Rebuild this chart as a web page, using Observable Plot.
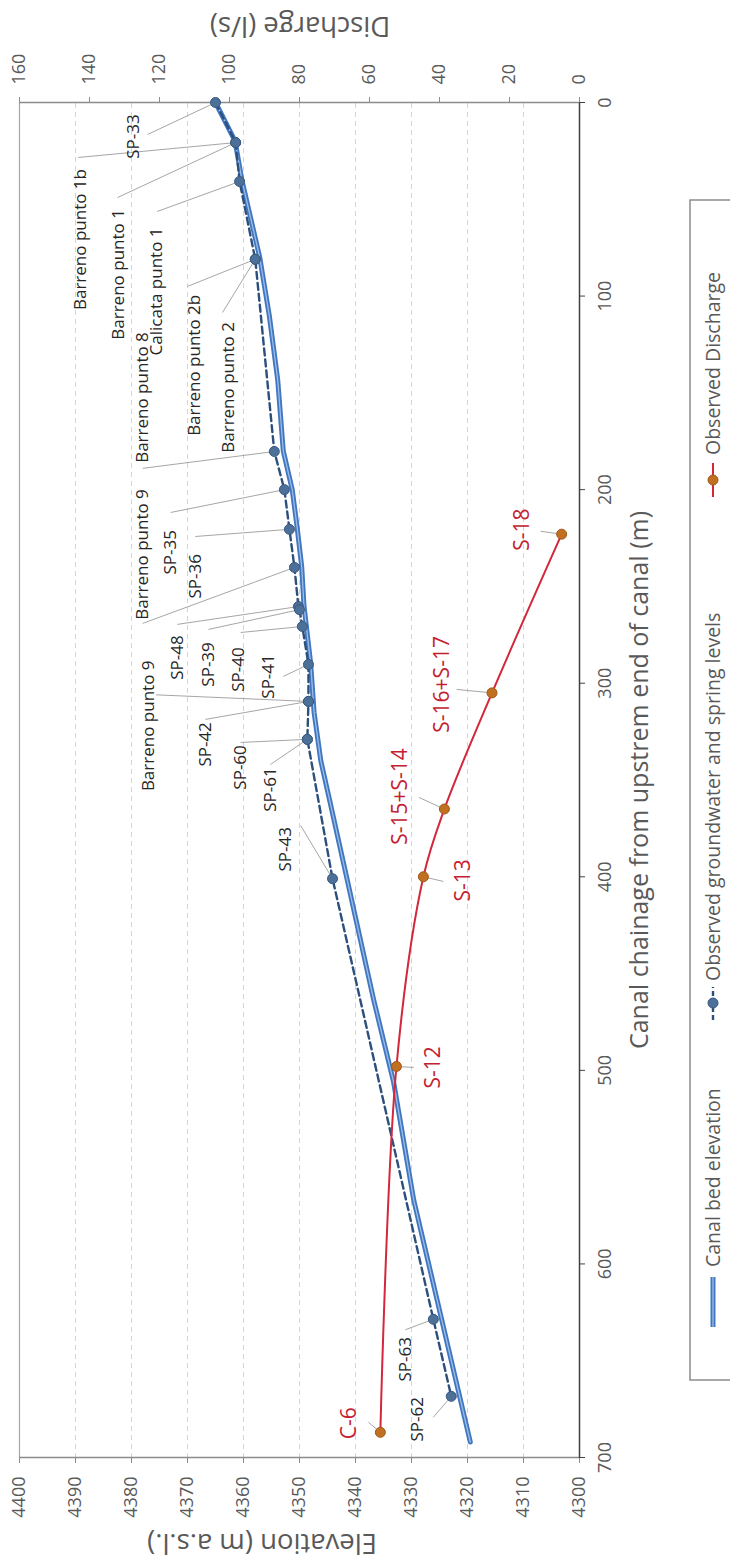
<!DOCTYPE html>
<html>
<head>
<meta charset="utf-8">
<script src="https://cdn.jsdelivr.net/npm/d3@7"></script>
<script src="https://cdn.jsdelivr.net/npm/@observablehq/plot@0.6"></script>
<style>
  html, body { margin: 0; padding: 0; background: #fff; }
  #page { position: relative; width: 730px; height: 1564px; overflow: hidden; background: #fff; }
  /* The chart is laid out in landscape and turned a quarter turn counter-clockwise */
  #land { position: absolute; left: 0; top: 0; width: 1564px; height: 730px;
          transform-origin: 0 0; transform: translateY(1564px) rotate(-90deg); }
  #land svg { position: absolute; left: 0; top: 0; overflow: visible; }
</style>
</head>
<body>
<div id="page"><div id="land"></div></div>
<script>
// ---- Canal bed elevation (m a.s.l.) along the chainage (m) ----
const bedChainage  = [0, 20, 40, 80, 110, 143, 180, 200, 220, 240, 260, 290, 315, 340, 362, 400, 463, 506, 567, 692];
const bedElevation = [4365.0, 4361.5, 4360.3, 4357.1, 4355.4, 4353.9, 4352.9, 4351.3, 4350.4, 4349.6, 4349.2, 4348.0, 4347.4, 4346.2, 4344.5, 4341.6, 4336.8, 4333.2, 4329.6, 4319.5];

// ---- Observed groundwater and spring levels ----
const gwNames = ["SP-33", "Barreno punto 1b", "Barreno punto 1", "Calicata punto 1", "Barreno punto 2b", "Barreno punto 2",
  "Barreno punto 8", "SP-35", "SP-36", "Barreno punto 9", "SP-48", "SP-39", "SP-40", "SP-41",
  "Barreno punto 9", "SP-42", "SP-60", "SP-61", "SP-43", "SP-63", "SP-62"];
const gwChainage = [0, 20.7, 20.7, 40.8, 81, 81, 180.3, 200, 220.5, 240.2, 260.4, 262, 270.7, 290.3,
  309.4, 309.4, 329, 329, 401, 628.6, 668.4];
const gwElevation = [4365.0, 4361.4, 4361.4, 4360.7, 4357.9, 4357.9, 4354.5, 4352.7, 4351.8, 4350.9, 4350.2, 4350.0, 4349.5, 4348.4,
  4348.4, 4348.4, 4348.6, 4348.6, 4344.1, 4326.1, 4322.9];

// ---- Observed discharge (l/s) ----
const qNames    = ["S-18", "S-16+S-17", "S-15+S-14", "S-13", "S-12", "C-6"];
const qChainage = [223, 305, 365, 400, 498, 687];
const qValue    = [5.1, 25, 38.6, 44.6, 52.3, 56.9];

// ---- Axis ticks ----
const chainageTicks  = [0, 100, 200, 300, 400, 500, 600, 700];
const elevationTicks = [4300, 4310, 4320, 4330, 4340, 4350, 4360, 4370, 4380, 4390, 4400];
const dischargeTicks = [0, 20, 40, 60, 80, 100, 120, 140, 160];

// ---- Label placement: [label chainage, label level, leader start chainage, leader start level] ----
const gwLabelLayout = [
  [17.6, 4379.6, 16.5, 4377.1], [70.8, 4389.1, 28.4, 4389.5], [88.8, 4382.3, 49.1, 4382.5],
  [97.6, 4375.5, 56.3, 4375.4], [135.8, 4368.75, 95, 4370.0], [147.2, 4362.7, 108.5, 4363.75],
  [152.4, 4378.0, 189.0, 4378.0], [232.4, 4373.0, 211.8, 4373.0], [244.8, 4368.6, 224.2, 4368.6],
  [233.5, 4378.0, 269.1, 4378.0], [286.7, 4371.8, 269.6, 4371.8], [290.3, 4366.25, 272.2, 4366.25],
  [292.9, 4360.9, 273.8, 4360.5], [296.5, 4355.5, 296.5, 4352.9],
  [322, 4377.0, 306, 4375.6], [331.6, 4366.8, 318.7, 4366.8], [343.5, 4360.5, 330.6, 4360.5],
  [354.9, 4355.2, 342, 4355.2], [385.8, 4352.5, 373.5, 4349.8], [649.3, 4331.1, 634, 4331.1],
  [680.3, 4328.9, 679.2, 4326.1]
];
const qLabelLayout = [
  [220.6, 16.3, 221.5, 11.1], [300.6, 39.1, 303.2, 35.1], [358.5, 51.1, 359, 45.9],
  [401.9, 33.1, 402.4, 38.9], [498.5, 41.7, 498.5, 47.4], [682.3, 65.7, 681.8, 60.3]
];

// Discharge shares the vertical extent of the elevation scale: 0–160 l/s ↔ 4300–4400 m
const qToY = q => 4300 + q * 100 / 160;
const yToQ = y => (y - 4300) * 160 / 100;

const bed = bedChainage.map((c, i) => ({c, e: bedElevation[i]}));
const gw = gwNames.map((name, i) => ({
  name, c: gwChainage[i], e: gwElevation[i],
  lc: gwLabelLayout[i][0], le: gwLabelLayout[i][1], sc: gwLabelLayout[i][2], se: gwLabelLayout[i][3]
}));
const gwLine = d3.sort(gw, d => d.c);
const flow = qNames.map((name, i) => ({
  name, c: qChainage[i], y: qToY(qValue[i]),
  lc: qLabelLayout[i][0], ly: qToY(qLabelLayout[i][1]), sc: qLabelLayout[i][2], sy: qToY(qLabelLayout[i][3])
}));

const FONT = "'Open Sans', 'Liberation Sans', sans-serif";
const AXIS = "#595959";

const chart = Plot.plot({
  width: 1564,
  height: 730,
  marginLeft: 106,
  marginRight: 103,
  marginTop: 19,
  marginBottom: 151,
  x: {domain: [0, 700], reverse: true, axis: null},
  y: {domain: [4300, 4400], axis: null},
  style: {fontFamily: FONT, fontSize: "18px", color: AXIS, background: "transparent"},
  marks: [
    // dashed gridlines at each elevation tick
    Plot.ruleY(elevationTicks.slice(1, -1), {stroke: "#d4d4d4", strokeWidth: 1, strokeDasharray: "5,4"}),
    // plot-area border
    Plot.ruleY([4400], {stroke: "#a6a6a6", strokeWidth: 1.2}),
    Plot.ruleX([700], {stroke: "#8c8c8c", strokeWidth: 1.5}),
    Plot.ruleX([0], {stroke: "#8c8c8c", strokeWidth: 1.5}),
    Plot.ruleY([4300], {stroke: "#404040", strokeWidth: 1.5}),
    // axes
    Plot.axisX(chainageTicks, {anchor: "bottom", tickSize: 6, tickPadding: 13, label: null,
      tickFormat: d => String(d), fontSize: 18, stroke: "#404040"}),
    Plot.axisY(elevationTicks, {anchor: "left", tickSize: 5, tickPadding: 14, label: null,
      tickFormat: d => String(d), fontSize: 18, stroke: "#8c8c8c"}),
    Plot.axisY(dischargeTicks.map(qToY), {anchor: "right", tickSize: 5, tickPadding: 13, label: null,
      tickFormat: d => String(Math.round(yToQ(d))), fontSize: 18, stroke: "#8c8c8c"}),
    // leader lines
    Plot.link(gw, {x1: "sc", y1: "se", x2: "c", y2: "e", stroke: "#a6a6a6", strokeWidth: 1}),
    Plot.link(flow, {x1: "sc", y1: "sy", x2: "c", y2: "y", stroke: "#a6a6a6", strokeWidth: 1}),
    // canal bed elevation: double blue line
    Plot.line(bed, {x: "c", y: "e", stroke: "#4177c0", strokeWidth: 5}),
    Plot.line(bed, {x: "c", y: "e", stroke: "#9dbde6", strokeWidth: 1.3}),
    // observed groundwater and spring levels
    Plot.line(gwLine, {x: "c", y: "e", stroke: "#2c4f7c", strokeWidth: 2.4, strokeDasharray: "7,4"}),
    Plot.dot(gw, {x: "c", y: "e", r: 5, fill: "#4d7099", stroke: "#37587f", strokeWidth: 1}),
    // observed discharge
    Plot.line(flow, {x: "c", y: "y", stroke: "#d3273a", strokeWidth: 2, curve: "catmull-rom"}),
    Plot.dot(flow, {x: "c", y: "y", r: 5, fill: "#c0701f", stroke: "#a3561a", strokeWidth: 1}),
    // point labels
    Plot.text(gw, {x: "lc", y: "le", text: "name", fontSize: 17, fill: "#262626", textAnchor: "middle", lineAnchor: "middle"}),
    Plot.text(flow, {x: "lc", y: "ly", text: "name", fontSize: 21, fill: "#c42030", textAnchor: "middle", lineAnchor: "middle"})
  ]
});
document.getElementById("land").appendChild(chart);

// ---- Axis titles and legend, drawn over the landscape layout ----
const over = d3.create("svg").attr("width", 1564).attr("height", 730)
  .style("font-family", FONT).attr("fill", AXIS);

over.append("text").attr("x", 784).attr("y", 648).attr("text-anchor", "middle")
  .style("font-size", "25px").text("Canal chainage from upstrem end of canal (m)");
over.append("text").attr("transform", "translate(20,262) rotate(-90)")
  .attr("text-anchor", "middle").attr("dy", "0.35em")
  .style("font-size", "27.5px").text("Elevation (m a.s.l.)");
over.append("text").attr("transform", "translate(1537,300) rotate(-90)")
  .attr("text-anchor", "middle").attr("dy", "0.35em")
  .style("font-size", "27.5px").text("Discharge (l/s)");

const legend = over.append("g").style("font-size", "19.5px");
legend.append("rect").attr("x", 184).attr("y", 690).attr("width", 1180).attr("height", 80)
  .attr("fill", "none").attr("stroke", "#8c8c8c").attr("stroke-width", 1.5);
const ly = 713;
// canal bed elevation
legend.append("line").attr("x1", 237).attr("x2", 287).attr("y1", ly).attr("y2", ly)
  .attr("stroke", "#4177c0").attr("stroke-width", 5);
legend.append("line").attr("x1", 237).attr("x2", 287).attr("y1", ly).attr("y2", ly)
  .attr("stroke", "#9dbde6").attr("stroke-width", 1.3);
legend.append("text").attr("x", 297).attr("y", ly).attr("dy", "0.35em").text("Canal bed elevation");
// groundwater
legend.append("line").attr("x1", 544).attr("x2", 577).attr("y1", ly).attr("y2", ly)
  .attr("stroke", "#2c4f7c").attr("stroke-width", 2.4).attr("stroke-dasharray", "5,3");
legend.append("circle").attr("cx", 561).attr("cy", ly).attr("r", 5).attr("fill", "#4d7099").attr("stroke", "#37587f");
legend.append("text").attr("x", 583).attr("y", ly).attr("dy", "0.35em").text("Observed groundwater and spring levels");
// discharge
legend.append("line").attr("x1", 1067).attr("x2", 1101).attr("y1", ly).attr("y2", ly)
  .attr("stroke", "#d3273a").attr("stroke-width", 2);
legend.append("circle").attr("cx", 1084).attr("cy", ly).attr("r", 5).attr("fill", "#c0701f").attr("stroke", "#a3561a");
legend.append("text").attr("x", 1109).attr("y", ly).attr("dy", "0.35em").text("Observed Discharge");

document.getElementById("land").appendChild(over.node());
</script>
</body>
</html>
